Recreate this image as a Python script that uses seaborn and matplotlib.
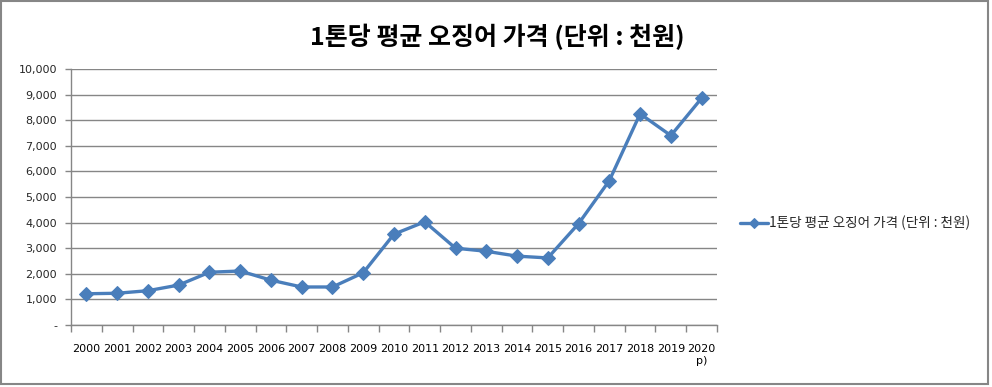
import matplotlib
matplotlib.use("Agg")
import matplotlib.pyplot as plt
import matplotlib.ticker as mticker
from matplotlib.patches import Rectangle
import numpy as np
import pandas as pd
import seaborn as sns

# data
years = ["2000", "2001", "2002", "2003", "2004", "2005", "2006", "2007", "2008", "2009",
         "2010", "2011", "2012", "2013", "2014", "2015", "2016", "2017", "2018", "2019", "2020\np)"]
prices = [1220, 1240, 1340, 1560, 2060, 2110, 1750, 1485, 1485, 2040,
          3550, 4030, 3000, 2880, 2690, 2620, 3960, 5640, 8250, 7400, 8860]
series_name = "1톤당 평균 오징어 가격 (단위 : 천원)"
title = "1톤당 평균 오징어 가격 (단위 : 천원)"
yticks = list(range(0, 10001, 1000))

df = pd.DataFrame({"idx": np.arange(len(years)), "price": prices, "series": series_name})

sns.set_theme(style="white")
plt.rcParams["font.family"] = ["Noto Sans CJK KR", "DejaVu Sans"]

fig = plt.figure(figsize=(9.92, 3.87), dpi=100)
ax = fig.add_axes([71 / 992, 1 - 325 / 387, (717 - 71) / 992, (325 - 69) / 387])

line_color = "#4A7EBB"
sns.lineplot(data=df, x="idx", y="price", hue="series", palette=[line_color],
             marker="D", markersize=7, markeredgecolor=line_color, linewidth=2.4,
             ax=ax)

# y axis
ax.set_ylim(0, 10000)
ax.set_yticks(yticks)
ax.yaxis.set_major_formatter(mticker.FuncFormatter(lambda v, p: "-" if v == 0 else f"{int(v):,}"))
ax.grid(axis="y", color="#868686", linewidth=1)
ax.set_axisbelow(True)

# x axis: category style, ticks between categories
ax.set_xlim(-0.5, len(years) - 0.5)
ax.set_xticks(np.arange(-0.5, len(years), 1.0))
ax.set_xticklabels([])
ax.set_xticks(np.arange(len(years)), minor=True)
ax.set_xticklabels(years, minor=True)
ax.tick_params(axis="x", which="major", direction="out", length=5, color="#868686", width=1, bottom=True)
ax.tick_params(axis="x", which="minor", length=0, pad=14, labelsize=8, colors="black")
ax.tick_params(axis="y", direction="out", length=4, color="#868686", width=1, left=True, labelsize=8, pad=6)
for lbl in ax.get_xticklabels(minor=True) + ax.get_yticklabels():
    lbl.set_family(["DejaVu Sans"])
for lbl in ax.get_xticklabels(minor=True):
    lbl.set_linespacing(1.15)

ax.set_xlabel("")
ax.set_ylabel("")
for side in ["top", "right"]:
    ax.spines[side].set_visible(False)
for side in ["left", "bottom"]:
    ax.spines[side].set_color("#868686")
    ax.spines[side].set_linewidth(1)

# legend on the right
leg = ax.legend(loc="center left", bbox_to_anchor=(735 / 992, 1 - 223 / 387), bbox_transform=fig.transFigure,
                frameon=False, fontsize=9.8, handlelength=2.0, handletextpad=0.1, borderaxespad=0)
for h in leg.legend_handles:
    h.set_markersize(5)
    h.set_linewidth(2.4)

fig.text(497 / 992, 1 - 37 / 387, title, ha="center", va="center", fontsize=18, fontweight="bold",
         color="black")

# chart frame
fig.patches.append(Rectangle((1 / 992, 3 / 387), 987 / 992, 383 / 387, transform=fig.transFigure,
                             fill=False, edgecolor="#868686", linewidth=1.5))

fig.savefig("out.png", dpi=100)
